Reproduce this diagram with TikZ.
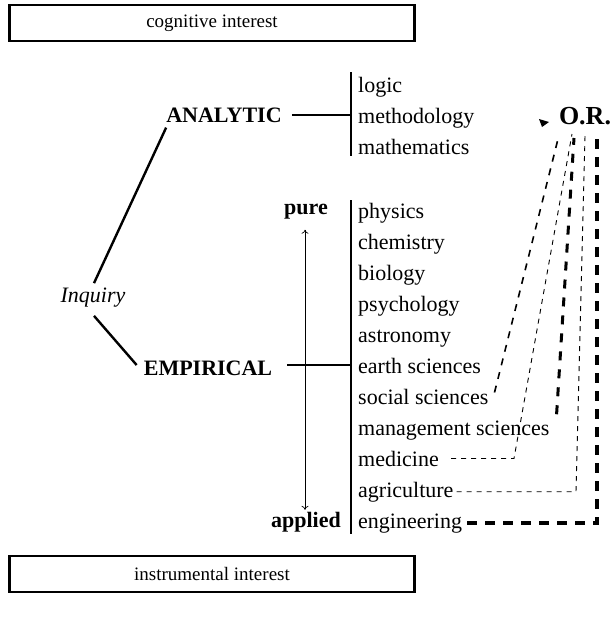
\documentclass[tikz,border=0pt]{standalone}
\usepackage{fontspec}
\setmainfont{Liberation Serif}
\usetikzlibrary{arrows.meta,calc}
\begin{document}
\begin{tikzpicture}[x=1pt,y=-1pt,
  item/.style={font=\fontsize{22}{25}\selectfont, inner sep=0pt, anchor=base west},
  head/.style={font=\fontsize{22}{25}\selectfont\bfseries, inner sep=0pt},
  boxnode/.style={draw, line width=2.2pt, minimum width=405pt, minimum height=36pt, inner sep=0pt, font=\fontsize{19}{22}\selectfont},
  bar/.style={line width=2.8pt},
  conn/.style={line width=2.4pt},
  dA/.style={line width=1.6pt, dash pattern=on 7pt off 7pt},
  dThin/.style={line width=0.9pt, dash pattern=on 5pt off 5pt},
  dThick/.style={line width=3pt, dash pattern=on 9pt off 9pt},
  dE/.style={line width=3.4pt, dash pattern=on 10pt off 8pt},
  tip/.style={{To[length=4pt,width=7pt]}-{To[length=4pt,width=7pt]}, line width=0.7pt}]
\useasboundingbox (0,0) rectangle (611,619);

% boxes
\node[boxnode] (cog) at (212,23) {cognitive interest};
\node[boxnode] (ins) at (212,574) {instrumental interest};

% main labels
\node[head] (ana) at (224,115) {ANALYTIC};
\node[head] (emp) at (208,368) {EMPIRICAL};
\node[font=\fontsize{22}{25}\selectfont\itshape, inner sep=0pt] (inq) at (93,298) {Inquiry};
\node[head] (pure) at (306,212) {pure};
\node[head] (appl) at (306,522) {applied};
\node[font=\fontsize{26}{30}\selectfont\bfseries, inner sep=0pt] (or) at (585,116) {O.R.};

% analytic items
\node[item] (logic) at (358,92) {logic};
\node[item] (meth) at (358,123) {methodology};
\node[item] (math) at (358,154) {mathematics};

% empirical items
\node[item] (phys) at (358,218) {physics};
\node[item] (chem) at (358,249) {chemistry};
\node[item] (bio)  at (358,280) {biology};
\node[item] (psy)  at (358,311) {psychology};
\node[item] (astr) at (358,342) {astronomy};
\node[item] (earth) at (358,373) {earth sciences};
\node[item] (soc)  at (358,404) {social sciences};
\node[item] (mgmt) at (358,435) {management sciences};
\node[item] (med)  at (358,466) {medicine};
\node[item] (agr)  at (358,497) {agriculture};
\node[item] (eng)  at (358,528) {engineering};

% bars
\coordinate (abarT) at (351,72);
\coordinate (abarB) at (351,156);
\coordinate (ebarT) at (351,200);
\coordinate (ebarB) at (351,534);
\draw[bar] (abarT) -- (abarB);
\draw[bar] (ebarT) -- (ebarB);

% connectors
\draw[conn] ($(inq.north)+(1,-5)$) -- ($(ana.south west)+(0,5)$);
\draw[conn] ($(inq.south)+(1,8)$) -- ($(emp.west)+(-7,-3)$);
\draw[conn] ($(ana.east)+(10,0)$) -- (ana.east -| abarT);
\draw[conn] ($(emp.east)+(15,-3)$) -- ($(emp.east -| ebarT)+(0,-3)$);
\draw[tip] ($(pure.south)+(-1,10)$) -- ($(appl.north)+(-1,-2)$);

% small arrowhead near O.R.
\fill (539,119) -- (549,122) -- (542,127) -- cycle;

% dashed links to O.R.
\coordinate (oA) at (558,139);
\coordinate (oB) at (572,134);
\coordinate (oC) at (574,138);
\coordinate (oD) at (585,136);
\coordinate (oE) at (597,132);
\coordinate (xB) at (514,0);
\coordinate (xD) at (576,0);
\coordinate (xE) at (597,0);
\draw[dA] ($(soc.east)+(6,-4)$) -- (oA);
\draw[dThin] ($(med.east)+(12,0)$) -- (med.east -| xB) -- (oB);
\draw[dThick] ($(mgmt.north east)+(7,-6)$) -- (oC);
\draw[dThin] ($(agr.east)+(3,0)$) -- (agr.east -| xD) -- (oD);
\draw[dE] ($(eng.east)+(5,0)$) -- (eng.east -| xE) -- (oE);
\end{tikzpicture}
\end{document}
